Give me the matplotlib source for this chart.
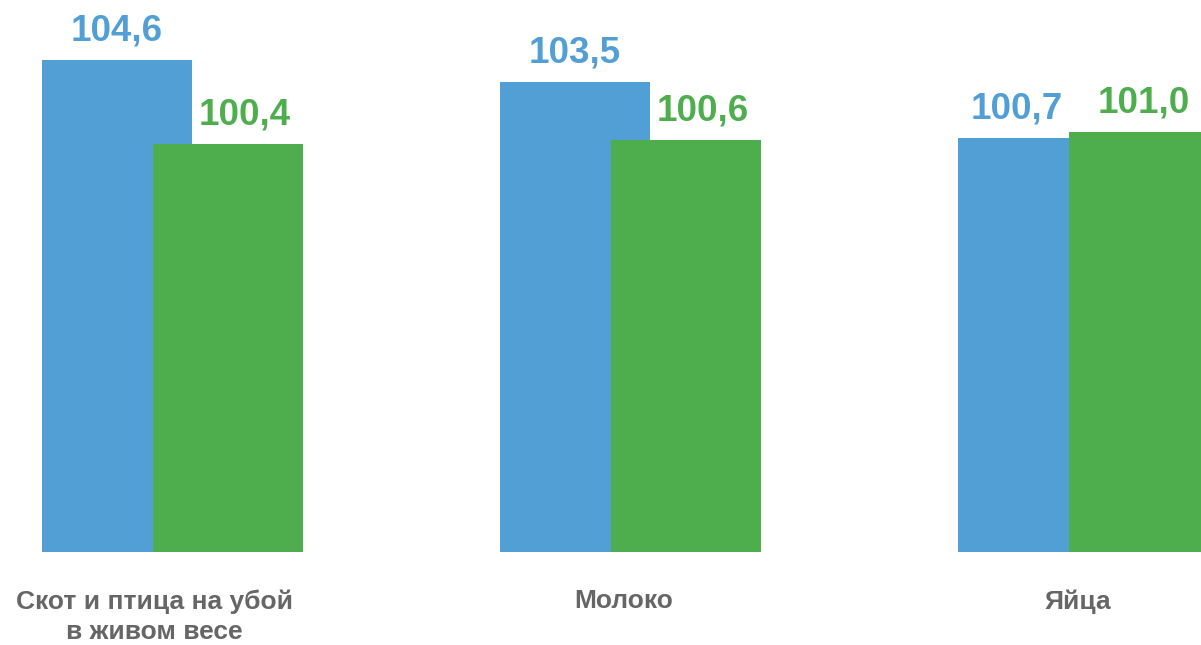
import matplotlib
matplotlib.use('Agg')
import matplotlib.pyplot as plt
import numpy as np

categories = ['Скот и птица на убой\nв живом весе', 'Молоко', 'Яйца']
series_blue = [104.6, 103.5, 100.7]
series_green = [100.4, 100.6, 101.0]

color_blue = '#529FD6'
color_green = '#4EAE4E'
color_text = '#666666'

plt.rcParams['font.family'] = ['Liberation Sans', 'DejaVu Sans']

fig = plt.figure(figsize=(12.01, 6.45), dpi=100)
ax = fig.add_axes([0, 93 / 645, 1, 552 / 645])

x = np.arange(len(categories))
width = 0.3275
shift = 0.121

bars_b = ax.bar(x - shift, series_blue, width, color=color_blue, zorder=2)
bars_g = ax.bar(x + shift, series_green, width, color=color_green, zorder=3)

def fmt(v):
    return f'{v:.1f}'.replace('.', ',')

# сдвиг подписей значений (в точках), как в исходнике
dx_blue = [0, 0, -12]
dx_green = [12, 12, 0]

for rect, v, dx in zip(bars_b, series_blue, dx_blue):
    ax.annotate(fmt(v), (rect.get_x() + rect.get_width() / 2, v),
                xytext=(dx, 14), textcoords='offset points',
                ha='center', va='baseline', fontsize=26.5, fontweight='bold',
                color=color_blue)
for rect, v, dx in zip(bars_g, series_green, dx_green):
    ax.annotate(fmt(v), (rect.get_x() + rect.get_width() / 2, v),
                xytext=(dx, 14), textcoords='offset points',
                ha='center', va='baseline', fontsize=26.5, fontweight='bold',
                color=color_green)

# подписи категорий
label_x = [-0.04, 0.986, 1.977]
for lx, name in zip(label_x, categories):
    ax.annotate(name, (lx, 80), xytext=(0, -27), textcoords='offset points',
                ha='center', va='top', fontsize=19, fontweight='bold',
                color=color_text, linespacing=1.3, annotation_clip=False)

ax.set_ylim(80, 107.6)
ax.set_xlim(-0.3766, 2.2456)
ax.axis('off')

fig.savefig('out.png', dpi=100)
